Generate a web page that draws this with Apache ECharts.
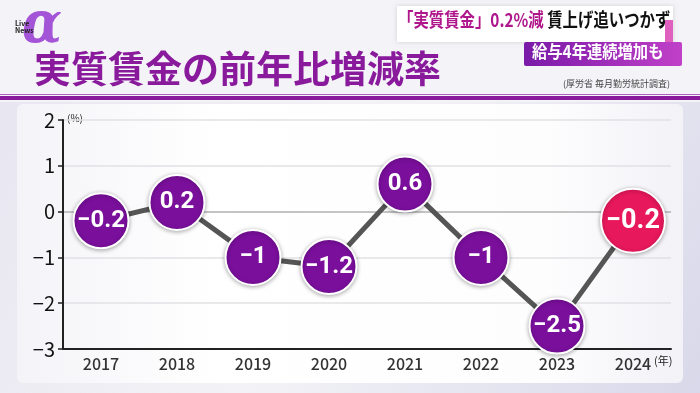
<!DOCTYPE html>
<html><head><meta charset="utf-8">
<script src="https://cdn.jsdelivr.net/npm/echarts@6/dist/echarts.min.js"></script>
<style>html,body{margin:0;padding:0;}#c{width:700px;height:393px;}</style>
</head><body><div id="c"></div>
<script>
const years = ['2017','2018','2019','2020','2021','2022','2023','2024'];
const realWageChange = [-0.2, 0.2, -1, -1.2, 0.6, -1, -2.5, -0.2];
const yTicks = [-3, -2, -1, 0, 1, 2];
const titleText = '実質賃金の前年比増減率';
const sourceText = '(厚労省 毎月勤労統計調査)';
const headline1a = '「実質賃金」0.2%減';
const headline1b = '賃上げ追いつかず';
const headline2 = '給与4年連続増加も';

const FONT = '"Noto Sans CJK JP", "Noto Sans", sans-serif';
const PURPLE = '#7a0f9c';
const RED = '#e8185c';
const fmt = v => (v < 0 ? '\u2212' + Math.abs(v) : String(v));

const chart = echarts.init(document.getElementById('c'), null, {renderer: 'canvas'});
const data = realWageChange.map((v, i) => {
  const last = i === realWageChange.length - 1;
  return {
    value: v,
    symbolSize: last ? 64 : 55,
    itemStyle: {color: last ? RED : PURPLE},
    label: {fontSize: last ? 27 : 24}
  };
});

chart.setOption({
  animation: false,
  backgroundColor: {
    type: 'linear', x: 0, y: 0, x2: 1, y2: 1,
    colorStops: [{offset: 0, color: '#e6e4ef'}, {offset: 0.5, color: '#f3f3f7'}, {offset: 1, color: '#d9d8ea'}]
  },
  graphic: [
    {type: 'rect', z: -10, shape: {x: 0, y: 0, width: 700, height: 102}, style: {fill: '#f4f4f8'}},
    {type: 'rect', z: -10, shape: {x: 17, y: 104, width: 666, height: 279, r: 6},
      style: {fill: {type: 'linear', x: 0, y: 0, x2: 1, y2: 0, colorStops: [{offset: 0, color: '#f4f4f8'}, {offset: 0.3, color: '#ffffff'}, {offset: 0.8, color: '#fdfdfe'}, {offset: 1, color: '#f2f2f7'}]}}},
    {type: 'rect', shape: {x: 0, y: 94, width: 700, height: 1}, style: {fill: '#b060c0'}},
    {type: 'rect', shape: {x: 0, y: 96, width: 700, height: 4}, style: {fill: '#8a1a9c'}},
    // logo
    {type: 'text', x: 22, y: -2, scaleY: 1.12, z: 1, style: {text: 'α', font: 'italic bold 52px "DejaVu Serif", serif', fill: '#a454d6'}},
    {type: 'text', x: 15, y: 20, z: 100, style: {text: 'Live\nNews', font: 'bold 7px ' + FONT, fill: '#222', lineHeight: 7}},
    // headline boxes
    {type: 'rect', shape: {x: 397, y: 6, width: 276, height: 36}, style: {fill: '#ffffff', shadowBlur: 4, shadowColor: 'rgba(0,0,0,0.15)'}},
    {type: 'rect', shape: {x: 665, y: 20, width: 8, height: 22}, style: {fill: '#e060c0'}},
    {type: 'text', x: 398, y: 10, scaleX: 0.81, style: {
      text: '{a|' + headline1a + '}{b| ' + headline1b + '}',
      rich: {
        a: {fontWeight: 'bold', fontSize: 19, fontFamily: FONT, fill: '#b0168c'},
        b: {fontWeight: 'bold', fontSize: 19, fontFamily: FONT, fill: '#111'}
      }}},
    {type: 'rect', shape: {x: 524, y: 42, width: 158, height: 24, r: 2},
      style: {fill: {type: 'linear', x: 0, y: 0, x2: 1, y2: 0, colorStops: [{offset: 0, color: '#7a1aa8'}, {offset: 1, color: '#c040c8'}]}}},
    {type: 'text', x: 532, y: 43, scaleX: 0.9, style: {text: headline2, font: 'bold 17px ' + FONT, fill: '#ffffff'}},
    // title
    {type: 'text', left: 34, top: 50, style: {text: titleText, font: 'bold 37px ' + FONT, fill: '#8a1a9c'}},
    {type: 'text', right: 30, top: 79, style: {text: sourceText, font: '9px ' + FONT, fill: '#444'}},
    // units
    {type: 'text', left: 67, top: 113, style: {text: '(%)', font: '10px ' + FONT, fill: '#222'}},
    {type: 'text', left: 654, top: 355, style: {text: '(年)', font: '11px ' + FONT, fill: '#222'}}
  ],
  grid: {left: 63, right: 29, top: 120, bottom: 44},
  xAxis: {
    type: 'category', data: years, boundaryGap: true,
    axisLine: {onZero: false, lineStyle: {color: '#222', width: 2}},
    axisTick: {show: false},
    axisLabel: {color: '#333', fontSize: 16, fontWeight: 500, fontFamily: FONT, margin: 7}
  },
  yAxis: {
    type: 'value', min: -3, max: 2, interval: 1,
    axisLine: {show: true, lineStyle: {color: '#222', width: 2}},
    axisTick: {show: true, length: 5, lineStyle: {color: '#222', width: 1.5}},
    axisLabel: {color: '#111', fontSize: 20, fontFamily: FONT, margin: 8, formatter: fmt},
    splitLine: {lineStyle: {color: ['#e2e2e6', '#e2e2e6', '#e2e2e6', '#b0b0b0', '#e2e2e6', '#e2e2e6'], width: 1.5}}
  },
  series: [{
    type: 'line', data: data,
    symbol: 'circle',
    lineStyle: {color: '#555', width: 5},
    itemStyle: {borderColor: '#ffffff', borderWidth: 2, shadowBlur: 4, shadowColor: 'rgba(0,0,0,0.3)', shadowOffsetY: 1},
    label: {show: true, position: 'inside', color: '#fff', fontWeight: 'bold', fontFamily: '"Liberation Sans Narrow", "Roboto", ' + FONT, formatter: p => fmt(p.value)},
    z: 3
  }]
});
</script></body></html>
